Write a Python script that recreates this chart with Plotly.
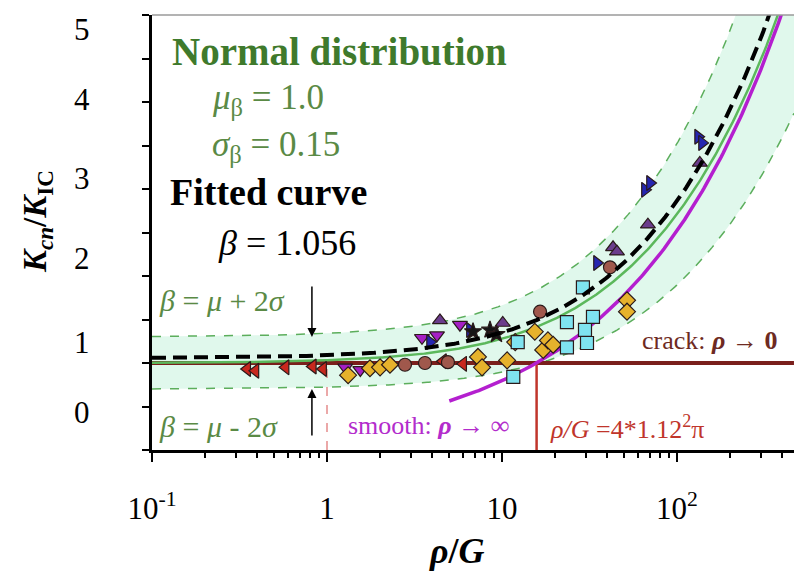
import numpy as np
import plotly.graph_objects as go

# ---------------- data ----------------
y_tick_labels = ["5", "4", "3", "2", "1", "0"]
x_tick_vals = [0.1, 1, 10, 100]
x_tick_text = ["10<sup>-1</sup>", "1", "10", "10<sup>2</sup>"]

mu_beta = 1.0
sigma_beta = 0.15
beta_fit = 1.056
rho_crit = 4 * 1.12 ** 2 * np.pi   # rho/G where smooth and crack limits meet
crack_level = 1.0
smooth_start = 5.0
x_min, x_max = 0.1, 466.0

red_tri_x = [0.35, 0.39, 0.58, 0.83, 0.95, 4.6, 6.0]
red_tri_y = [0.93, 0.91, 0.95, 0.96, 0.93, 1.02, 0.99]

purple_down_x = [1.27, 1.55, 3.49, 4.25, 5.75]
purple_down_y = [0.95, 0.92, 1.29, 1.32, 1.44]

yellow_dia_x = [1.32, 1.76, 2.01, 2.29, 7.29, 7.69, 10.7, 11.9, 15.4, 17.2, 18.3, 19.6, 51.8, 51.8]
yellow_dia_y = [0.86, 0.94, 0.95, 0.98, 1.07, 0.95, 1.03, 1.24, 1.36, 1.15, 1.26, 1.21, 1.72, 1.59]

brown_circ_x = [2.79, 3.63, 4.91, 16.5, 41.4]
brown_circ_y = [0.98, 1.00, 1.01, 1.59, 2.10]

cyan_sq_x = [11.6, 12.3, 23.5, 23.5, 29.8, 30.6, 29.0, 33.1]
cyan_sq_y = [0.84, 1.24, 1.47, 1.18, 1.38, 1.23, 1.87, 1.53]

blue_tri_x = [3.88, 6.56, 34.9, 65.6, 70.1, 132, 139]
blue_tri_y = [1.24, 1.38, 2.15, 2.99, 3.07, 3.60, 3.53]

dpurple_tri_x = [4.42, 10.1, 43.1, 45.4, 68.2, 135]
dpurple_tri_y = [1.49, 1.46, 2.33, 2.28, 2.59, 3.30]

black_x = [6.83, 8.54, 9.3]
black_y = [1.36, 1.38, 1.33]

# ---------------- layout constants ----------------
W, H = 794, 576
L, R, T, B = 152, 0, 15, 126
PW, PH = W - L - R, H - T - B
DEC = 175.0  # px per decade


def P(px, py):
    return (px - L) / PW, (H - B - py) / PH


SERIF = "Liberation Serif"
GREEN_T = "#3f7a2c"
GREEN_T2 = "#5a8a45"

# model curves
xm = np.logspace(np.log10(x_min), np.log10(x_max), 400)
base = np.sqrt(1 + xm / rho_crit)
upper = (mu_beta + 2 * sigma_beta) * base
lower = (mu_beta - 2 * sigma_beta) * base
mean_c = mu_beta * base
fit_c = beta_fit * base
xs = np.logspace(np.log10(smooth_start), np.log10(x_max), 200)
smooth_c = np.sqrt(xs / rho_crit)

fig = go.Figure()
fig.add_trace(go.Scatter(x=xm, y=lower, mode="lines",
                         line=dict(color="#5cae5c", width=1.5, dash="dash")))
fig.add_trace(go.Scatter(x=xm, y=upper, mode="lines", fill="tonexty",
                         fillcolor="#e0f8ec",
                         line=dict(color="#5cae5c", width=1.5, dash="dash")))
fig.add_trace(go.Scatter(x=[x_min, x_max], y=[crack_level, crack_level], mode="lines",
                         line=dict(color="#7a1f1c", width=4)))
fig.add_trace(go.Scatter(x=[rho_crit, rho_crit], y=[0, crack_level], mode="lines",
                         line=dict(color="#c0352b", width=2.5)))
fig.add_trace(go.Scatter(x=[1, 1], y=[0, 0.93], mode="lines",
                         line=dict(color="#e07a7a", width=1.3, dash="dash")))
fig.add_trace(go.Scatter(x=xm, y=mean_c, mode="lines",
                         line=dict(color="#5cb85c", width=2.5)))
fig.add_trace(go.Scatter(x=xs, y=smooth_c, mode="lines",
                         line=dict(color="#b41fcf", width=3.5)))

mk_line = dict(color="#2a1a1a", width=1.2)
series = [
    (red_tri_x, red_tri_y, "triangle-left", "#c8281e"),
    (purple_down_x, purple_down_y, "triangle-down", "#a51fc4"),
    (yellow_dia_x, yellow_dia_y, "diamond", "#e6b22c"),
    (brown_circ_x, brown_circ_y, "circle", "#a0584c"),
    (cyan_sq_x, cyan_sq_y, "square", "#7fe3f0"),
    (blue_tri_x, blue_tri_y, "triangle-right", "#2626b0"),
    (dpurple_tri_x, dpurple_tri_y, "triangle-up", "#6b3c8c"),
    (black_x, black_y, "star", "#151515"),
]
for sx, sy, sym, col in series:
    fig.add_trace(go.Scatter(x=sx, y=sy, mode="markers",
                             marker=dict(symbol=sym, size=13, color=col, line=mk_line)))

fig.add_trace(go.Scatter(x=xm, y=fit_c, mode="lines",
                         line=dict(color="black", width=4, dash="14px,7px")))

ann = []
# y tick labels (as printed in the source figure)
ylab_py = [30, 100, 178, 258, 342, 412]
for t, py in zip(y_tick_labels, ylab_py):
    xp, yp = P(82, py)
    ann.append(dict(x=xp, y=yp, xref="paper", yref="paper", text=t, showarrow=False,
                    font=dict(family=SERIF, size=31, color="black"),
                    xanchor="center", yanchor="middle"))


def txt(text, px, py, size, color, anchor="left"):
    xp, yp = P(px, py)
    ann.append(dict(x=xp, y=yp, xref="paper", yref="paper", text=text, showarrow=False,
                    font=dict(family=SERIF, size=size, color=color),
                    xanchor=anchor, yanchor="middle"))


txt("<b>Normal distribution</b>", 170, 52, 39, GREEN_T)
txt("<i>μ</i><sub>β</sub> = 1.0", 210, 100, 35, GREEN_T2)
txt("<i>σ</i><sub>β</sub> = 0.15", 210, 146, 35, GREEN_T2)
txt("<b>Fitted curve</b>", 168, 192, 38, "black")
txt("<i>β</i> = 1.056", 216, 243, 36, "black")
txt("<i>β</i> = <i>μ</i> + 2<i>σ</i>", 157, 300, 30, GREEN_T2)
txt("<i>β</i> = <i>μ</i> - 2<i>σ</i>", 157, 426, 30, GREEN_T2)
txt("smooth: <b><i>ρ</i> → ∞</b>", 346, 425, 26, "#b32ccc")
txt("crack: <b><i>ρ</i> → 0</b>", 640, 340, 26, "#6e2a22")
txt("<i>ρ/G</i> =4*1.12<sup>2</sup>π", 548, 427, 26, "#c0352b")

# axis titles
xp, yp = P(457, 551)
ann.append(dict(x=xp, y=yp, xref="paper", yref="paper", text="<b><i>ρ</i>/<i>G</i></b>",
                showarrow=False, font=dict(family=SERIF, size=36, color="black"),
                xanchor="center", yanchor="middle"))
xp, yp = P(38, 222)
ann.append(dict(x=xp, y=yp, xref="paper", yref="paper",
                text="<b><i>K</i><sub><i>cn</i></sub>/<i>K</i><sub>IC</sub></b>",
                showarrow=False, textangle=-90, font=dict(family=SERIF, size=33, color="black"),
                xanchor="center", yanchor="middle"))

# arrows pointing at the ±2σ band
arrow_x = np.log10(0.82)
ann.append(dict(x=arrow_x, y=mu_beta + 2 * sigma_beta, xref="x", yref="y", ax=0, ay=-52,
                showarrow=True, arrowhead=2, arrowsize=1.2, arrowwidth=1.5, arrowcolor="black", text=""))
ann.append(dict(x=arrow_x, y=mu_beta - 2 * sigma_beta, xref="x", yref="y", ax=0, ay=48,
                showarrow=True, arrowhead=2, arrowsize=1.2, arrowwidth=1.5, arrowcolor="black", text=""))

minor_vals = [m * 10.0 ** e for e in (-1, 0, 1, 2) for m in range(2, 10)]

fig.update_layout(
    width=W, height=H,
    margin=dict(l=L, r=R, t=T, b=B, pad=0, autoexpand=False),
    paper_bgcolor="white", plot_bgcolor="white",
    showlegend=False,
    annotations=ann,
    shapes=[dict(type="line", xref="paper", yref="paper", x0=0, x1=1, y0=1, y1=1,
                 line=dict(color="#9a9a9a", width=1.5))],
    xaxis=dict(type="log", range=[-1, -1 + PW / DEC], showgrid=False, zeroline=False,
               automargin=False,
               showline=True, linecolor="black", linewidth=3,
               tickmode="array", tickvals=x_tick_vals, ticktext=x_tick_text,
               ticks="outside", ticklen=9, tickwidth=2, tickcolor="black",
               ticklabelstandoff=20,
               tickfont=dict(family=SERIF, size=31, color="black"),
               minor=dict(tickmode="array", tickvals=minor_vals, ticks="outside",
                          ticklen=5, tickwidth=1.5, tickcolor="black", showgrid=False)),
    yaxis=dict(range=[0, 5], showgrid=False, zeroline=False, automargin=False,
               showline=True, linecolor="black", linewidth=3,
               tickmode="linear", tick0=0, dtick=0.5, showticklabels=False,
               ticks="outside", ticklen=7, tickwidth=2, tickcolor="black"),
)

fig.write_html("out.html", config={"displayModeBar": False},
               post_script="document.body.style.margin='0';document.body.style.overflow='hidden';")
